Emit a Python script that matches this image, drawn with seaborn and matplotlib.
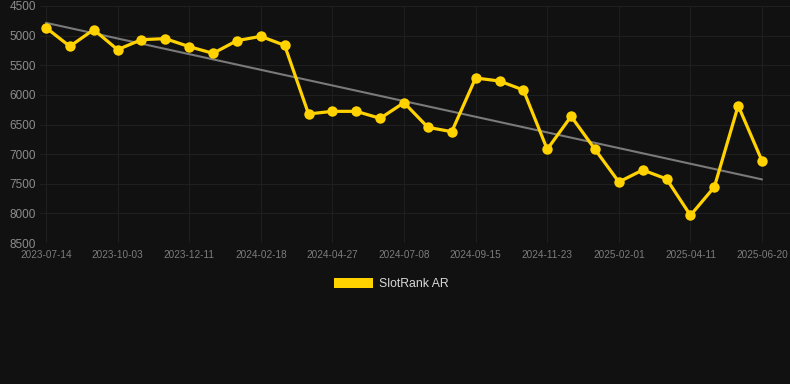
import numpy as np
import pandas as pd
import matplotlib
matplotlib.use('Agg')
import matplotlib.pyplot as plt
from matplotlib.patches import Patch
import seaborn as sns

# SlotRank AR values, one point per observation (inverted rank axis)
rank_values = [4866, 5181, 4899, 5237, 5068, 5051, 5186, 5299, 5085, 5012,
               5164, 6322, 6278, 6278, 6396, 6131, 6548, 6621, 5715, 5766,
               5918, 6919, 6362, 6919, 7470, 7268, 7419, 8033, 7555, 6182,
               7116]
# labels shown on every third point
tick_labels = ['2023-07-14', '2023-10-03', '2023-12-11', '2024-02-18',
               '2024-04-27', '2024-07-08', '2024-09-15', '2024-11-23',
               '2025-02-01', '2025-04-11', '2025-06-20']
y_ticks = [4500, 5000, 5500, 6000, 6500, 7000, 7500, 8000, 8500]
series_name = 'SlotRank AR'

df = pd.DataFrame({'idx': np.arange(len(rank_values)), 'rank': rank_values})

bg = '#111111'
gold = '#FFD200'

sns.set_theme(style='dark')
plt.rcParams['font.family'] = ['Liberation Sans', 'DejaVu Sans']

fig = plt.figure(figsize=(7.9, 3.84), dpi=100, facecolor=bg)
ax = fig.add_axes([40 / 790, 1 - 243 / 384, 750 / 790, 237 / 384])
ax.set_facecolor(bg)

# trend line
sns.regplot(data=df, x='idx', y='rank', scatter=False, ci=None, ax=ax,
            line_kws={'color': '#7a7a7a', 'linewidth': 1.5, 'zorder': 2})

sns.lineplot(data=df, x='idx', y='rank', ax=ax, color=gold, linewidth=2.3,
             marker='o', markersize=7.5, markeredgewidth=0, zorder=3)

ax.set_ylim(8500, 4500)
ax.set_xlim(-0.25, len(rank_values) - 1 + 1.17)
ax.set_yticks(y_ticks)
ax.set_yticklabels([str(v) for v in y_ticks])
ax.set_xticks(np.arange(0, len(rank_values), 3))
ax.set_xticklabels(tick_labels)
ax.tick_params(axis='y', colors='#8c8c8c', labelsize=8.5, length=0, pad=3)
ax.tick_params(axis='x', colors='#7c7c7c', labelsize=7.2, length=0, pad=5)
ax.grid(True, color='#1f1f1f', linewidth=0.8)
ax.set_xlabel('')
ax.set_ylabel('')
for s in ax.spines.values():
    s.set_visible(False)

fig.legend(handles=[Patch(facecolor=gold, edgecolor='none', label=series_name)],
           loc='center', bbox_to_anchor=(0.495, 1 - 284 / 384), frameon=False,
           fontsize=8.8, labelcolor='#d8d8d8', handlelength=3.2,
           handleheight=0.9, handletextpad=0.5)

fig.savefig('out.png', dpi=100, facecolor=bg)
